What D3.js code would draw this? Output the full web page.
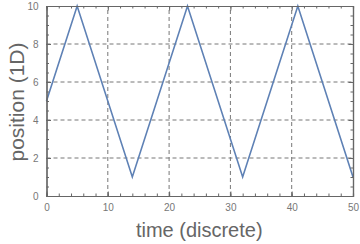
<!DOCTYPE html>
<html lang="en">
<head>
<meta charset="UTF-8">
<title>position vs time</title>
<script src="https://cdn.jsdelivr.net/npm/d3@7"></script>
<style>
  body { margin: 0; background: #fff; }
  svg { display: block; font-family: "Liberation Sans", Arial, sans-serif; }
</style>
</head>
<body>
<script>
// data: turning points of the zigzag
var times = [0, 5, 14, 23, 32, 41, 50];
var positions = [5, 10, 1, 10, 1, 10, 1];
var xTicks = [0, 10, 20, 30, 40, 50];
var yTicks = [0, 2, 4, 6, 8, 10];

var width = 360, height = 244;
var margin = {top: 6, right: 7, bottom: 48, left: 46.5};
var frameColor = "#666";

var svg = d3.select("body").append("svg")
    .attr("width", width)
    .attr("height", height);

var x = d3.scaleLinear().domain([0, 50]).range([margin.left, width - margin.right]);
var y = d3.scaleLinear().domain([0, 10]).range([height - margin.bottom, margin.top]);

// dashed grid at the major ticks
svg.append("g").selectAll("line")
    .data(xTicks.slice(1, -1))
    .enter().append("line")
    .attr("x1", d => x(d)).attr("x2", d => x(d))
    .attr("y1", y(0)).attr("y2", y(10))
    .attr("stroke", "#777").attr("stroke-width", 1)
    .attr("stroke-dasharray", "4,3");
svg.append("g").selectAll("line")
    .data(yTicks.slice(1, -1))
    .enter().append("line")
    .attr("x1", x(0)).attr("x2", x(50))
    .attr("y1", d => y(d)).attr("y2", d => y(d))
    .attr("stroke", "#777").attr("stroke-width", 1)
    .attr("stroke-dasharray", "4,3");

// the series
var line = d3.line().x((d, i) => x(times[i])).y(d => y(d));
svg.append("path")
    .datum(positions)
    .attr("d", line)
    .attr("fill", "none")
    .attr("stroke", "#5E81B5")
    .attr("stroke-width", 1.6)
    .attr("stroke-linejoin", "miter");

// frame axes, ticks pointing inward on all sides
function styleAxis(g) {
  g.select(".domain").attr("stroke", frameColor).attr("stroke-width", 1.2);
  g.selectAll(".tick line").attr("stroke", frameColor);
  g.selectAll(".tick text").attr("fill", "#777").attr("font-size", 10);
}
var xMinor = d3.range(0, 50.01, 2);
var yMinor = d3.range(0, 10.01, 0.5);

[["bottom", y(0), true], ["top", y(10), false]].forEach(function(s) {
  var minor = svg.append("g").attr("transform", "translate(0," + s[1] + ")")
      .call((s[0] === "bottom" ? d3.axisBottom(x) : d3.axisTop(x))
        .tickValues(xMinor).tickSize(-2.5).tickFormat(""));
  styleAxis(minor);
  var major = svg.append("g").attr("transform", "translate(0," + s[1] + ")")
      .call((s[0] === "bottom" ? d3.axisBottom(x) : d3.axisTop(x))
        .tickValues(xTicks).tickSizeInner(-4.5).tickSizeOuter(0).tickPadding(8)
        .tickFormat(s[2] ? d3.format("d") : ""));
  styleAxis(major);
});
[["left", x(0), true], ["right", x(50), false]].forEach(function(s) {
  var minor = svg.append("g").attr("transform", "translate(" + s[1] + ",0)")
      .call((s[0] === "left" ? d3.axisLeft(y) : d3.axisRight(y))
        .tickValues(yMinor).tickSize(-2.5).tickFormat(""));
  styleAxis(minor);
  var major = svg.append("g").attr("transform", "translate(" + s[1] + ",0)")
      .call((s[0] === "left" ? d3.axisLeft(y) : d3.axisRight(y))
        .tickValues(yTicks).tickSizeInner(-4.5).tickSizeOuter(0).tickPadding(8)
        .tickFormat(s[2] ? d3.format("d") : ""));
  styleAxis(major);
});

// axis titles
svg.append("text")
    .attr("x", (x(0) + x(50)) / 2 - 0.5)
    .attr("y", 237)
    .attr("text-anchor", "middle")
    .attr("fill", "#666")
    .attr("font-size", 20)
    .text("time (discrete)");
svg.append("text")
    .attr("transform", "translate(24," + ((y(0) + y(10)) / 2 + 1) + ") rotate(-90)")
    .attr("text-anchor", "middle")
    .attr("fill", "#666")
    .attr("font-size", 21)
    .text("position (1D)");
</script>
</body>
</html>
